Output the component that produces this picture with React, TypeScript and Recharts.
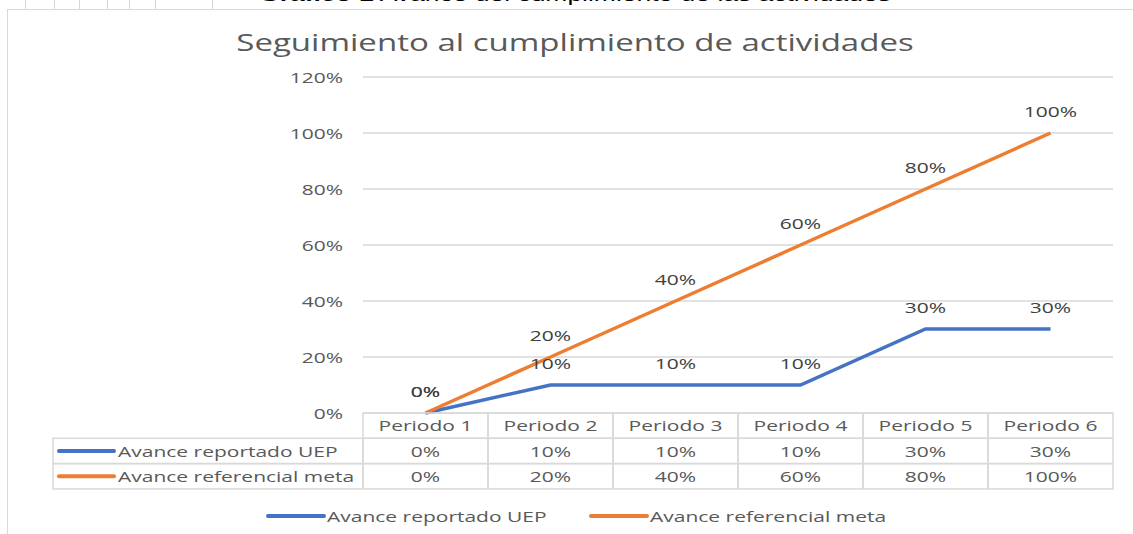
import React from "react";
import { LineChart, Line, XAxis, YAxis, CartesianGrid, Legend, LabelList } from "recharts";

const periodos = ["Periodo 1", "Periodo 2", "Periodo 3", "Periodo 4", "Periodo 5", "Periodo 6"];
const avanceUEP = [0, 10, 10, 10, 30, 30];
const avanceMeta = [0, 20, 40, 60, 80, 100];
const yTicks = [0, 20, 40, 60, 80, 100, 120];
const seriesNames = ["Avance reportado UEP", "Avance referencial meta"];
const seriesColors = ["#4472C4", "#ED7D31"];
const titulo = "Seguimiento al cumplimiento de actividades";

const data = periodos.map((p, i) => ({ periodo: p, uep: avanceUEP[i], meta: avanceMeta[i] }));
const seriesValues = [avanceUEP, avanceMeta];

const FONT = "'Open Sans', sans-serif";
const SX = 1.4; // the screenshot is stretched sideways
const GRID = "#d9d9d9";
const TXT = "#595959";
const COL_W = 125;
const ROW_H = 25.3;
const LABEL_COL_W = 310;

function WideText({ x, y, anchor = "middle", size = 15, fill = TXT, children }: any) {
  return (
    <text
      transform={`translate(${x},${y}) scale(${SX},1)`}
      textAnchor={anchor}
      dominantBaseline="central"
      fontSize={size}
      fontFamily={FONT}
      fill={fill}
    >
      {children}
    </text>
  );
}

// x axis tick draws the whole data table column under each category
function TableTick(props: any) {
  const { x, y, payload } = props;
  const i = periodos.indexOf(payload.value);
  const left = x - COL_W / 2;
  return (
    <g>
      <rect x={left} y={y} width={COL_W} height={ROW_H} fill="none" stroke={GRID} strokeWidth={1.5} />
      <WideText x={x} y={y + ROW_H / 2}>{payload.value}</WideText>
      {seriesValues.map((vals, r) => (
        <g key={r}>
          <rect x={left} y={y + ROW_H * (r + 1)} width={COL_W} height={ROW_H} fill="none" stroke={GRID} strokeWidth={1.5} />
          <WideText x={x} y={y + ROW_H * (r + 1.5)}>{vals[i]}%</WideText>
        </g>
      ))}
      {i === 0 &&
        seriesNames.map((name, r) => {
          const lx = left - LABEL_COL_W;
          const cy = y + ROW_H * (r + 1.5);
          return (
            <g key={name}>
              <rect x={lx} y={y + ROW_H * (r + 1)} width={LABEL_COL_W} height={ROW_H} fill="none" stroke={GRID} strokeWidth={1.5} />
              <line x1={lx + 6} x2={lx + 61} y1={cy} y2={cy} stroke={seriesColors[r]} strokeWidth={4} strokeLinecap="round" />
              <WideText x={lx + 65} y={cy} anchor="start">{name}</WideText>
            </g>
          );
        })}
    </g>
  );
}

function YTick(props: any) {
  return <WideText x={props.x} y={props.y} anchor="end">{props.payload.value}%</WideText>;
}

function PointLabel(props: any) {
  const x = props.x ?? props.viewBox?.x;
  const y = props.y ?? props.viewBox?.y;
  return <WideText x={x} y={y - 22} fill="#404040">{props.value}%</WideText>;
}

function LegendContent() {
  const starts = [268, 591];
  return (
    <svg width={1133} height={30}>
      {seriesNames.map((name, i) => (
        <g key={name}>
          <line x1={starts[i]} x2={starts[i] + 56} y1={15} y2={15} stroke={seriesColors[i]} strokeWidth={4} strokeLinecap="round" />
          <WideText x={starts[i] + 59} y={15} anchor="start">{name}</WideText>
        </g>
      ))}
    </svg>
  );
}

const docLines = [25, 54, 79, 107, 129, 155, 212];

export default function App() {
  return (
    <div style={{ position: "absolute", left: 0, top: 0, width: 1133, height: 534, overflow: "hidden", background: "#fff" }}>
      {docLines.map((x) => (
        <div key={x} style={{ position: "absolute", left: x, top: 0, width: 1, height: 10, background: "#d6d6d6" }} />
      ))}
      <div
        style={{
          position: "absolute",
          left: 0,
          top: -16,
          width: 1150,
          textAlign: "center",
          fontFamily: "'Liberation Sans', Arial, sans-serif",
          fontSize: 18.5,
          color: "#000",
          whiteSpace: "nowrap",
          transform: "scaleX(1.43)",
          transformOrigin: "575px 0",
        }}
      >
        <b>Gráfico 1</b> Avance del cumplimiento de las actividades
      </div>
      <div style={{ position: "absolute", left: 7, top: 9, width: 1200, height: 600, border: `1.5px solid ${GRID}`, background: "#fff" }} />
      <div
        style={{
          position: "absolute",
          left: 0,
          top: 26,
          width: 1150,
          textAlign: "center",
          fontFamily: FONT,
          fontSize: 23.6,
          color: TXT,
          whiteSpace: "nowrap",
          transform: `scaleX(${SX})`,
          transformOrigin: "575px 0",
        }}
      >
        {titulo}
      </div>
      <div style={{ position: "absolute", left: 0, top: 0 }}>
        <LineChart width={1133} height={534} data={data} margin={{ top: 77, right: 20, left: 303, bottom: 41 }}>
          <CartesianGrid vertical={false} stroke={GRID} strokeWidth={1.5} />
          <XAxis
            dataKey="periodo"
            axisLine={false}
            tickLine={false}
            tickSize={0}
            tickMargin={0}
            height={80}
            interval={0}
            padding={{ left: COL_W / 2, right: COL_W / 2 }}
            tick={<TableTick />}
          />
          <YAxis
            type="number"
            domain={[0, 120]}
            ticks={yTicks}
            axisLine={false}
            tickLine={false}
            tickSize={0}
            tickMargin={20}
            width={60}
            tick={<YTick />}
          />
          <Line dataKey="uep" name={seriesNames[0]} stroke={seriesColors[0]} strokeWidth={3.5} dot={false} isAnimationActive={false}>
            <LabelList dataKey="uep" content={<PointLabel />} />
          </Line>
          <Line dataKey="meta" name={seriesNames[1]} stroke={seriesColors[1]} strokeWidth={3.5} dot={false} isAnimationActive={false}>
            <LabelList dataKey="meta" content={<PointLabel />} />
          </Line>
          <Legend
            layout="horizontal"
            verticalAlign="middle"
            align="center"
            content={<LegendContent />}
            wrapperStyle={{ top: 501, left: 0, width: 1133, height: 30 }}
          />
        </LineChart>
      </div>
    </div>
  );
}
